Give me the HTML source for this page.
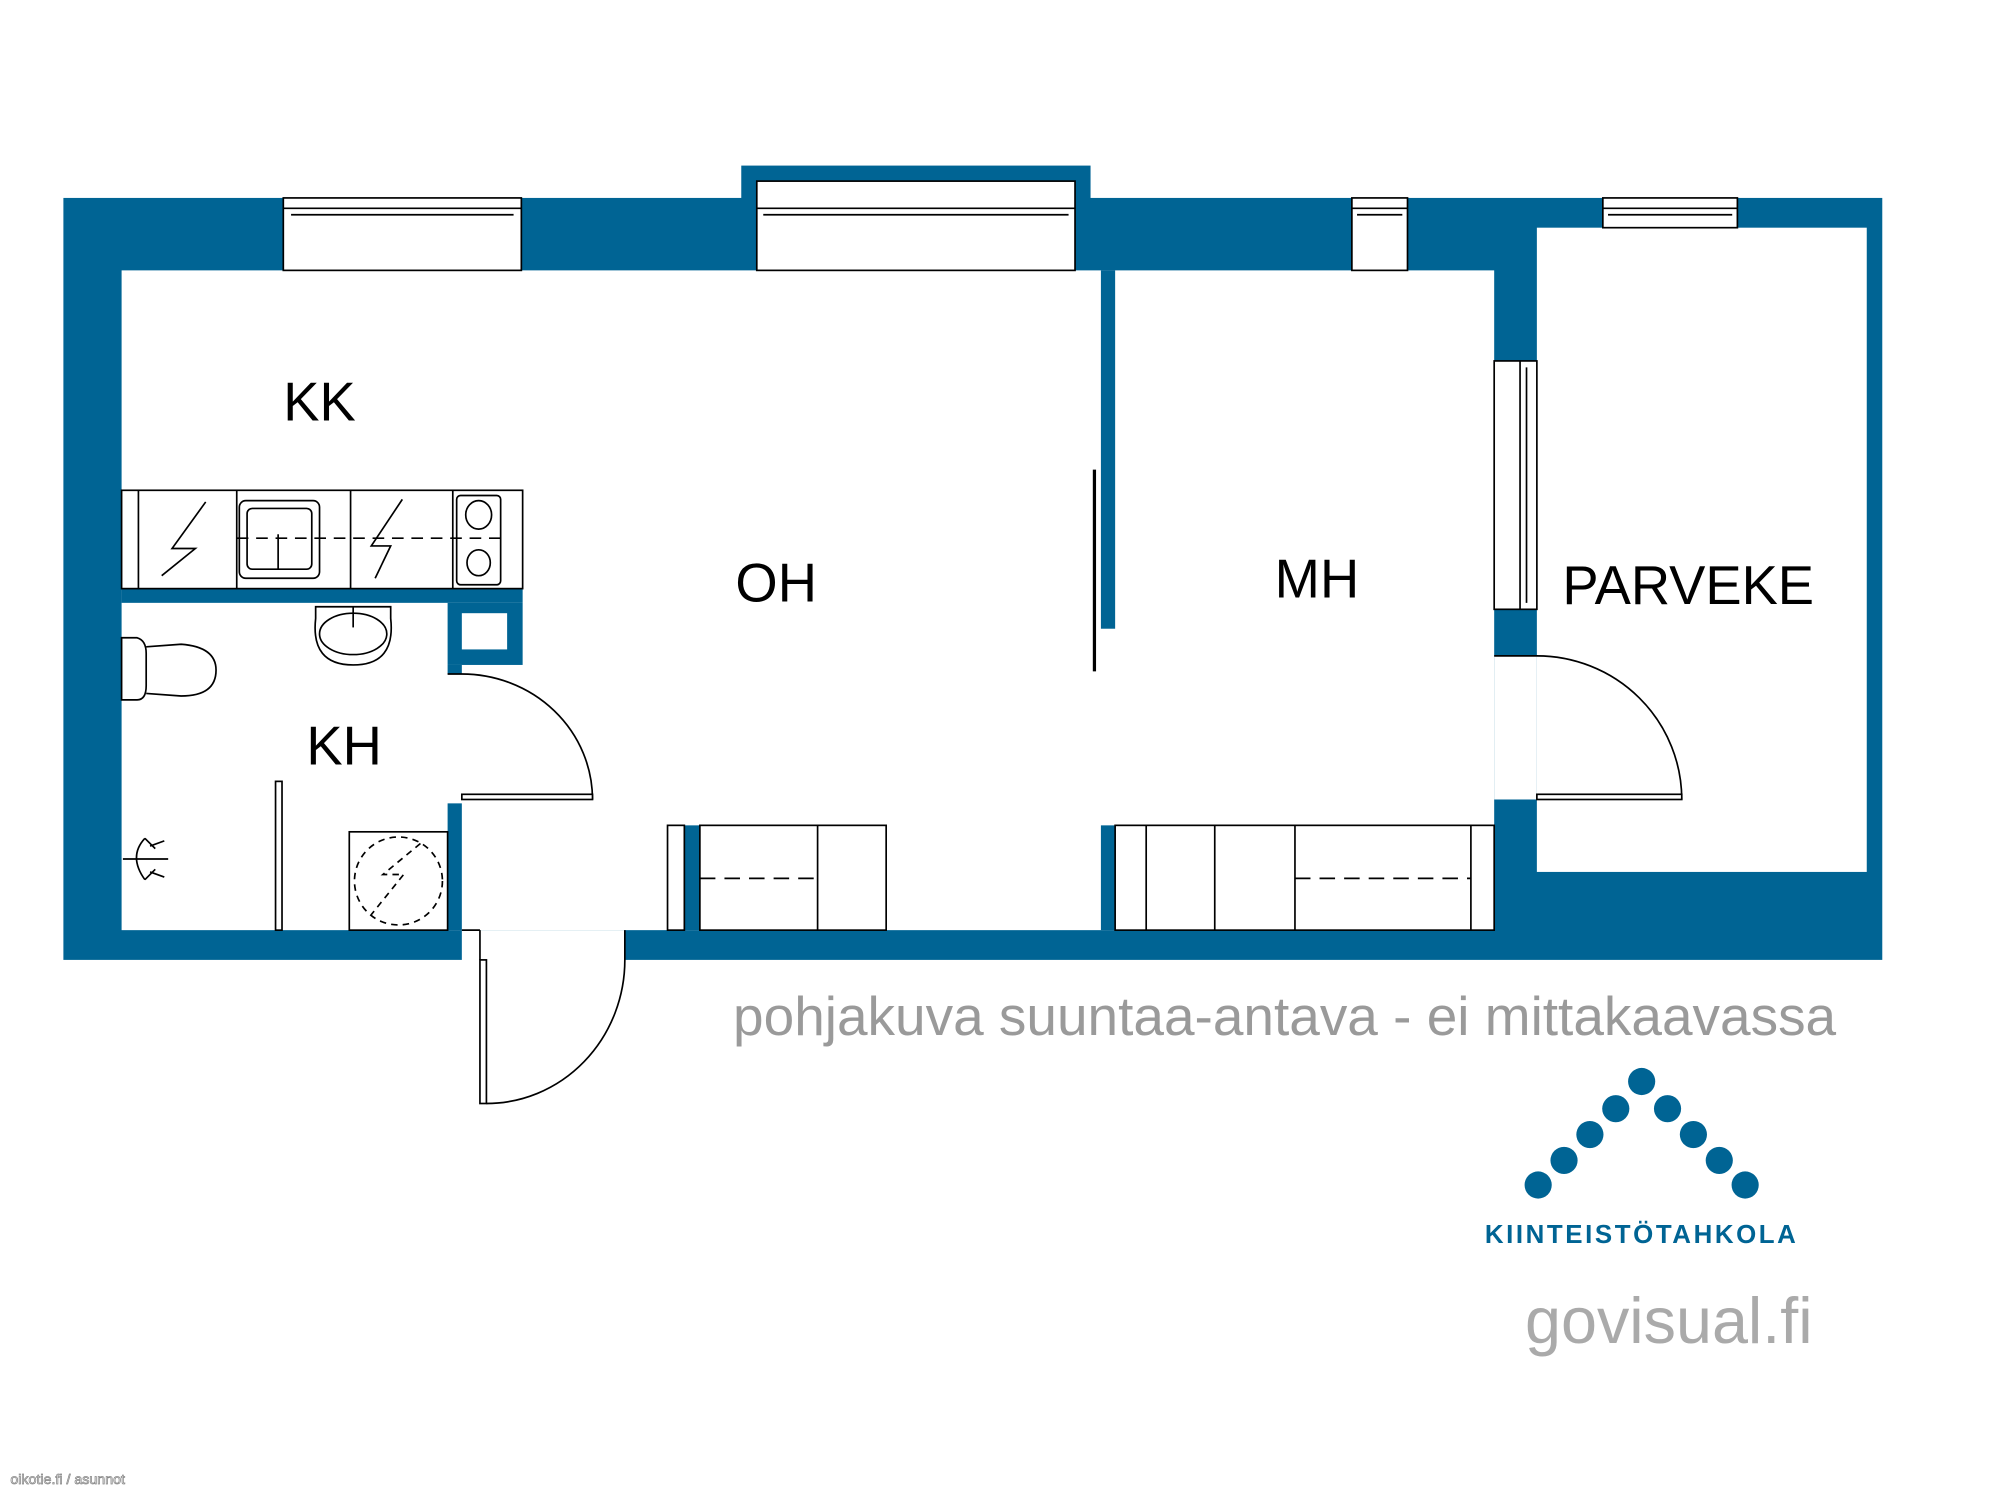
<!DOCTYPE html>
<html><head><meta charset="utf-8"><style>
html,body{margin:0;padding:0;background:#fff;}
svg{display:block;}
text{font-family:"Liberation Sans",sans-serif;}
</style></head><body>
<svg width="2000" height="1500" viewBox="0 0 1546 1159.5" preserveAspectRatio="none" xmlns="http://www.w3.org/2000/svg">
<rect width="1546" height="1160" fill="#fff"/>
<g fill="#006494">
<rect x="49" y="153" width="1406" height="589"/>
<rect x="573" y="128" width="270" height="30"/>
</g>
<g fill="#fff">
<rect x="585" y="140" width="246" height="70"/>
<rect x="94" y="209" width="1061" height="510"/>
<rect x="1188" y="176" width="255" height="498"/>
<rect x="357" y="719" width="126" height="24"/>
<rect x="219" y="153" width="184" height="56"/>
<rect x="1045" y="153" width="43" height="56"/>
<rect x="1239" y="153" width="104" height="23"/>
<rect x="1155" y="279" width="33" height="192"/>
<rect x="1155" y="507" width="33" height="111"/>
</g>
<g fill="none" stroke="#000" stroke-width="1.3">
<rect x="219" y="153" width="184" height="56"/>
<line x1="219" y1="161" x2="403" y2="161"/><line x1="225" y1="166" x2="397" y2="166"/>
<rect x="585" y="140" width="246" height="69"/>
<line x1="585" y1="161" x2="831" y2="161"/><line x1="590" y1="166" x2="826" y2="166"/>
<rect x="1045" y="153" width="43" height="56"/>
<line x1="1045" y1="161" x2="1088" y2="161"/><line x1="1049" y1="166" x2="1084" y2="166"/>
<rect x="1239" y="153" width="104" height="23"/>
<line x1="1239" y1="161" x2="1343" y2="161"/><line x1="1243" y1="166" x2="1339" y2="166"/>
<rect x="1155" y="279" width="33" height="192"/>
<line x1="1175" y1="279" x2="1175" y2="471"/><line x1="1180" y1="284" x2="1180" y2="466"/>
</g>
<g fill="#006494">
<rect x="851" y="209" width="11" height="277"/>
<rect x="851" y="638" width="11" height="81"/>
<rect x="94" y="455" width="310" height="11"/>
<rect x="346" y="466" width="58" height="48"/>
<rect x="346" y="514" width="11" height="7"/>
<rect x="346" y="621" width="11" height="98"/>
<rect x="529" y="638" width="12" height="81"/>
</g>
<rect x="357" y="474" width="35" height="28" fill="#fff"/>
<line x1="846" y1="363" x2="846" y2="519" stroke="#000" stroke-width="2.5"/>
<g fill="none" stroke="#000" stroke-width="1.3">
<rect x="94" y="379" width="310" height="76" fill="#fff"/>
<line x1="107" y1="379" x2="107" y2="455"/>
<line x1="183" y1="379" x2="183" y2="455"/>
<line x1="271" y1="379" x2="271" y2="455"/>
<line x1="350" y1="379" x2="350" y2="455"/>
<line x1="183" y1="416" x2="390" y2="416" stroke-dasharray="9,6"/>
<rect x="185" y="387" width="62" height="60" rx="5"/>
<rect x="191" y="393" width="50" height="47" rx="4"/>
<line x1="215" y1="413" x2="215" y2="440"/>
<rect x="353" y="383" width="34" height="69" rx="3"/>
<ellipse cx="370" cy="398" rx="10" ry="11"/>
<ellipse cx="370" cy="435" rx="9" ry="10"/>
<polyline points="159,388 133,424 151,424 125,445"/>
<polyline points="311,386 287,422 302,422 290,447"/>
</g>
<g fill="none" stroke="#000" stroke-width="1.3">
<path d="M244,478 Q240,514 273,514 Q306,514 302,478 L302,469 L244,469 Z" fill="#fff"/>
<ellipse cx="273" cy="490" rx="26" ry="16"/>
<line x1="273" y1="469" x2="273" y2="485"/>
<path d="M94,493 L106,493 Q113,495 113,505 L113,530 Q113,541 106,541 L94,541 Z" fill="#fff"/>
<path d="M113,500 L140,498 Q167,500 167,518 Q167,538 140,538 L113,536"/>
<path d="M112,648 Q99,662 112,680"/>
<line x1="95" y1="664" x2="130" y2="664"/>
<line x1="112" y1="648" x2="120" y2="656"/><line x1="112" y1="680" x2="120" y2="672"/>
<line x1="116" y1="654" x2="127" y2="650"/><line x1="116" y1="674" x2="127" y2="678"/>
<rect x="213" y="604" width="5" height="115" fill="#fff"/>
<rect x="270" y="643" width="76" height="76" fill="#fff"/>
<ellipse cx="308" cy="681" rx="34" ry="34" stroke-dasharray="5,4"/>
<polyline points="325,652 296,676 312,676 287,707" stroke-dasharray="5,4"/>
</g>
<g fill="none" stroke="#000" stroke-width="1.3">
<path d="M346,521 L357,521 A101,97 0 0 1 458,618"/>
<rect x="357" y="614" width="101" height="4" fill="#fff"/>
<path d="M483,719 L483,742 A107,111 0 0 1 376,853"/>
<rect x="371" y="742" width="5" height="111" fill="#fff"/>
<line x1="357" y1="719" x2="371" y2="719"/><line x1="371" y1="719" x2="371" y2="742"/>
<path d="M1155,507 L1188,507 A112,111 0 0 1 1300,618"/>
<rect x="1188" y="614" width="112" height="4" fill="#fff"/>
</g>
<g fill="#fff" stroke="#000" stroke-width="1.3">
<rect x="516" y="638" width="13" height="81"/>
<rect x="541" y="638" width="144" height="81"/>
<line x1="632" y1="638" x2="632" y2="719"/>
<line x1="541" y1="679" x2="632" y2="679" stroke-dasharray="12,7"/>
<rect x="862" y="638" width="293" height="81"/>
<line x1="886" y1="638" x2="886" y2="719"/>
<line x1="939" y1="638" x2="939" y2="719"/>
<line x1="1001" y1="638" x2="1001" y2="719"/>
<line x1="1137" y1="638" x2="1137" y2="719"/>
<line x1="1001" y1="679" x2="1137" y2="679" stroke-dasharray="12,7"/>
</g>
<g fill="#000" font-size="42" text-anchor="middle">
<text x="247" y="325">KK</text>
<text x="600" y="465">OH</text>
<text x="266" y="591">KH</text>
<text x="1018" y="462">MH</text>
<text x="1305" y="467">PARVEKE</text>
</g>
<text x="993" y="800" font-size="42.5" fill="#9a9a9a" text-anchor="middle">pohjakuva suuntaa-antava - ei mittakaavassa</text>
<g fill="#006494">
<circle cx="1189" cy="916" r="10.5"/><circle cx="1209" cy="897" r="10.5"/><circle cx="1229" cy="877" r="10.5"/><circle cx="1249" cy="857" r="10.5"/><circle cx="1269" cy="836" r="10.5"/><circle cx="1289" cy="857" r="10.5"/><circle cx="1309" cy="877" r="10.5"/><circle cx="1329" cy="897" r="10.5"/><circle cx="1349" cy="916" r="10.5"/>
</g>
<text x="1269" y="961" font-size="20" font-weight="bold" fill="#006494" text-anchor="middle" letter-spacing="2">KIINTEISTÖTAHKOLA</text>
<text x="1290" y="1038" font-size="50" fill="#aaa" text-anchor="middle">govisual.fi</text>
<text x="8" y="1147" font-size="11" fill="#fff" stroke="#888" stroke-width="0.6">oikotie.fi / asunnot</text>
</svg>
</body></html>
